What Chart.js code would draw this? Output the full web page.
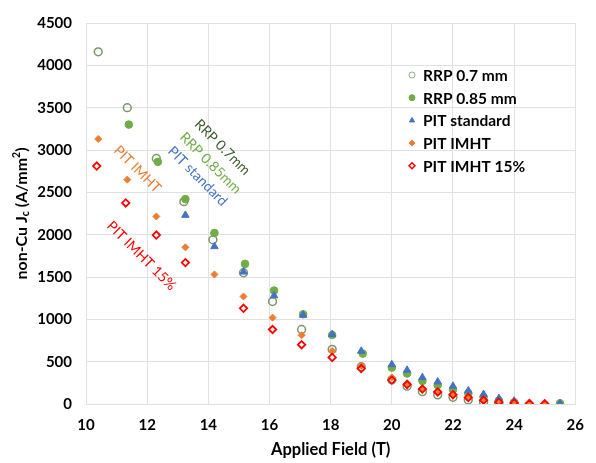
<!DOCTYPE html>
<html>
<head>
<meta charset="utf-8">
<script src="https://cdn.jsdelivr.net/npm/chart.js@4/dist/chart.umd.min.js"></script>
<style>
  html, body { margin: 0; padding: 0; background: #fff; }
  #wrap { width: 596px; height: 463px; }
</style>
</head>
<body>
<div id="wrap"><canvas id="jcChart" width="596" height="463"></canvas></div>
<script>
// Datos (campo en T, Jc en A/mm2)
const fieldRRP07 = [10.4, 11.35, 12.3, 13.2, 14.15, 15.15, 16.1, 17.05, 18.05, 19.0, 20.0, 20.5, 21.0, 21.5, 22.0, 22.5, 23.0, 23.5, 24.0];
const jcRRP07    = [4160, 3500, 2900, 2390, 1940, 1550, 1210, 880, 645, 440, 285, 210, 145, 108, 80, 48, 22, 12, 6];

const fieldRRP085 = [11.4, 12.35, 13.25, 14.2, 15.2, 16.15, 17.1, 18.05, 19.05, 20.0, 20.5, 21.0, 21.5, 22.0, 22.5, 23.0, 23.5, 24.0, 25.5];
const jcRRP085    = [3300, 2860, 2420, 2020, 1655, 1340, 1060, 815, 595, 430, 360, 272, 222, 172, 126, 80, 40, 20, 8];

const fieldPITstd = [13.25, 14.2, 15.15, 16.15, 17.1, 18.05, 19.0, 20.0, 20.5, 21.0, 21.5, 22.0, 22.5, 23.0, 23.5, 24.0, 25.5];
const jcPITstd    = [2230, 1860, 1560, 1280, 1050, 822, 625, 466, 400, 313, 262, 211, 157, 114, 67, 35, 5];

const fieldIMHT = [10.4, 11.35, 12.3, 13.25, 14.2, 15.15, 16.1, 17.05, 18.05, 19.0, 20.0, 20.5, 21.0, 21.5, 22.0, 22.5, 23.0, 23.5, 24.0, 24.5, 25.0];
const jcIMHT    = [3130, 2650, 2215, 1850, 1530, 1270, 1020, 812, 626, 450, 314, 245, 184, 148, 114, 80, 48, 26, 15, 8, 3];

const fieldIMHT15 = [10.35, 11.3, 12.3, 13.25, 15.15, 16.1, 17.05, 18.05, 19.0, 20.0, 20.5, 21.0, 21.5, 22.0, 22.5, 23.0, 23.5, 24.0, 24.5, 25.0];
const jcIMHT15    = [2810, 2375, 1995, 1670, 1130, 880, 700, 550, 419, 282, 230, 176, 142, 110, 76, 45, 22, 12, 6, 2];

const seriesNames = ['RRP 0.7 mm', 'RRP 0.85 mm', 'PIT standard', 'PIT IMHT', 'PIT IMHT 15%'];

// Etiquetas giradas dentro del grafico (texto, posicion en unidades de datos)
const noteTexts  = ['RRP 0.7mm', 'RRP 0.85mm', 'PIT standard', 'PIT IMHT', 'PIT IMHT 15%'];
const noteField  = [14.46, 14.07, 13.65, 11.68, 11.81];
const noteJc     = [3032, 2844, 2691, 2773, 1751];
const noteColors = ['#3d5c2c', '#70ad47', '#4472c4', '#ed7d31', '#ff0000'];

const FONT = "Lato, 'Open Sans', sans-serif";

function toPoints(xs, ys) {
  return xs.map((x, i) => ({ x: x, y: ys[i] }));
}

// Estilos de cada serie (orden de dibujo: la ultima queda arriba)
const datasets = [
  { label: seriesNames[0], data: toPoints(fieldRRP07, jcRRP07), pointStyle: 'circle',
    backgroundColor: 'rgba(255,255,255,0)', borderColor: '#7a9669', pointBorderWidth: 1.5, pointRadius: 3.9, order: 5 },
  { label: seriesNames[1], data: toPoints(fieldRRP085, jcRRP085), pointStyle: 'circle',
    backgroundColor: '#70ad47', borderColor: '#70ad47', pointBorderWidth: 1, pointRadius: 3.8, order: 4 },
  { label: seriesNames[2], data: toPoints(fieldPITstd, jcPITstd), pointStyle: 'triangle',
    backgroundColor: '#4472c4', borderColor: '#4472c4', pointBorderWidth: 1, pointRadius: 4.3, order: 3 },
  { label: seriesNames[3], data: toPoints(fieldIMHT, jcIMHT), pointStyle: 'rectRot',
    backgroundColor: '#ed7d31', borderColor: '#ed7d31', pointBorderWidth: 1, pointRadius: 3.5, order: 2 },
  { label: seriesNames[4], data: toPoints(fieldIMHT15, jcIMHT15), pointStyle: 'rectRot',
    backgroundColor: 'rgba(255,255,255,0)', borderColor: '#ff0000', pointBorderWidth: 1.8, pointRadius: 3.7, order: 1 }
];

// Leyenda dibujada a mano dentro del area del grafico
const legendPlugin = {
  id: 'insideLegend',
  afterDraw(chart) {
    const ctx = chart.ctx;
    const area = chart.chartArea;
    const x0 = area.left + 326;
    const y0 = 75;
    ctx.save();
    ctx.font = 'bold 15.5px ' + FONT;
    ctx.textBaseline = 'middle';
    ctx.textAlign = 'left';
    datasets.forEach((ds, i) => {
      const y = y0 + i * 22.7;
      const bw = i === 0 ? 0.8 : (i === 4 ? 1.5 : 1);
      ctx.fillStyle = ds.backgroundColor;
      ctx.strokeStyle = ds.borderColor;
      ctx.lineWidth = bw;
      Chart.helpers.drawPoint(ctx, { pointStyle: ds.pointStyle, radius: 3, rotation: 0, borderWidth: bw }, x0, y);
      ctx.fillStyle = '#000';
      ctx.fillText(ds.label, x0 + 11, y + 1);
    });
    ctx.restore();
  }
};

// Notas giradas 45 grados junto a las curvas
const notesPlugin = {
  id: 'rotatedNotes',
  afterDatasetsDraw(chart) {
    const ctx = chart.ctx;
    const xs = chart.scales.x, ys = chart.scales.y;
    ctx.save();
    ctx.font = '14px ' + FONT;
    ctx.textAlign = 'center';
    ctx.textBaseline = 'middle';
    noteTexts.forEach((t, i) => {
      ctx.save();
      ctx.translate(xs.getPixelForValue(noteField[i]), ys.getPixelForValue(noteJc[i]));
      ctx.rotate(Math.PI / 4);
      ctx.fillStyle = noteColors[i];
      ctx.fillText(t, 0, 0);
      ctx.restore();
    });
    ctx.restore();
  }
};

// Titulo del eje Y con subindice y superindice
const yTitlePlugin = {
  id: 'yTitle',
  afterDraw(chart) {
    const ctx = chart.ctx;
    const area = chart.chartArea;
    const parts = [
      { t: 'non-Cu J', size: 16, dy: 0 },
      { t: 'c', size: 10.5, dy: 4 },
      { t: ' (A/mm', size: 16, dy: 0 },
      { t: '2', size: 10.5, dy: -5 },
      { t: ')', size: 16, dy: 0 }
    ];
    ctx.save();
    let total = 0;
    parts.forEach(p => {
      ctx.font = 'bold ' + p.size + 'px ' + FONT;
      p.w = ctx.measureText(p.t).width;
      total += p.w;
    });
    ctx.translate(22, (area.top + area.bottom) / 2);
    ctx.rotate(-Math.PI / 2);
    ctx.fillStyle = '#000';
    ctx.textBaseline = 'middle';
    ctx.textAlign = 'left';
    let cx = -total / 2;
    parts.forEach(p => {
      ctx.font = 'bold ' + p.size + 'px ' + FONT;
      ctx.fillText(p.t, cx, p.dy);
      cx += p.w;
    });
    ctx.restore();
  }
};

const ctx = document.getElementById('jcChart').getContext('2d');
const gridColor = '#e1e1e1';

new Chart(ctx, {
  type: 'scatter',
  data: { datasets: datasets },
  plugins: [notesPlugin, legendPlugin, yTitlePlugin],
  options: {
    responsive: false,
    animation: false,
    layout: { padding: { top: 21, right: 15, left: 0, bottom: 0 } },
    plugins: {
      legend: { display: false },
      tooltip: { enabled: false }
    },
    scales: {
      x: {
        type: 'linear',
        min: 10,
        max: 26,
        afterFit(scale) { scale.height = 59; },
        ticks: {
          stepSize: 2,
          padding: 12,
          color: '#000',
          font: { family: FONT, size: 15, weight: 'bold' }
        },
        grid: { color: gridColor, drawTicks: false },
        border: { color: gridColor },
        title: {
          display: true,
          text: 'Applied Field (T)',
          color: '#000',
          padding: { top: 0, bottom: 3 },
          font: { family: FONT, size: 16.5, weight: 'bold' }
        }
      },
      y: {
        min: 0,
        max: 4500,
        afterFit(scale) { scale.width = 86; },
        ticks: {
          stepSize: 500,
          padding: 14,
          color: '#000',
          font: { family: FONT, size: 15, weight: 'bold' },
          callback: (v) => String(v)
        },
        grid: { color: gridColor, drawTicks: false },
        border: { color: gridColor }
      }
    }
  }
});
</script>
</body>
</html>
